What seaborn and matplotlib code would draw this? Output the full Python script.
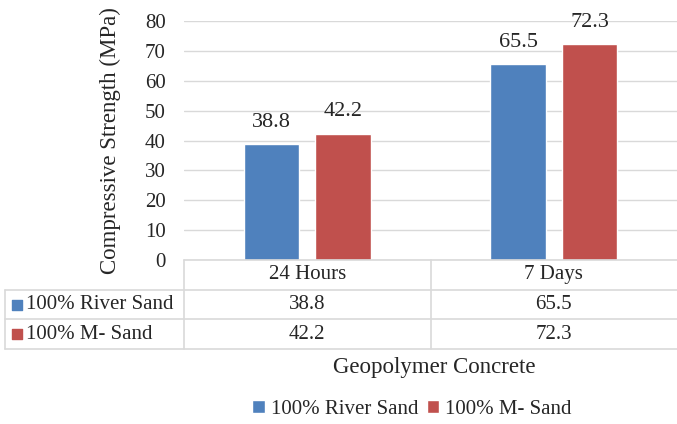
import pandas as pd
import seaborn as sns
import matplotlib.pyplot as plt
from matplotlib.patches import Patch
from matplotlib.lines import Line2D
import matplotlib.transforms as mtransforms

sns.set_style("white")
plt.rcParams["font.family"] = ["Liberation Serif", "DejaVu Serif"]

# data
periods = ["24 Hours", "7 Days"]
series = ["100% River Sand", "100% M- Sand"]
river_sand = [38.8, 65.5]
m_sand = [42.2, 72.3]
colors = ["#4F81BD", "#C0504D"]
yticks = [0, 10, 20, 30, 40, 50, 60, 70, 80]

df = pd.DataFrame({
    "period": periods * 2,
    "mix": [series[0]] * 2 + [series[1]] * 2,
    "strength": river_sand + m_sand,
})

fs = 15
fig = plt.figure(figsize=(6.77, 4.24), dpi=100)
W, H = 677, 424
left, right = 184 / W, 1.0
top, bottom = 1 - 21 / H, 1 - 260 / H
ax = fig.add_axes([left, bottom, right - left, top - bottom])

sns.barplot(data=df, x="period", y="strength", hue="mix", palette=colors,
            width=0.58, gap=0.22, saturation=1, legend=False, ax=ax)
for c in ax.containers:
    ax.bar_label(c, fmt="%.1f", padding=9, fontsize=fs + 1)

ax.set_ylim(0, 80)
ax.set_yticks(yticks)
ax.grid(axis="y", color="#D9D9D9", linewidth=1)
ax.set_axisbelow(True)
sns.despine(ax=ax, left=True, bottom=True, right=True, top=True)
ax.tick_params(axis="y", length=0, pad=13, labelsize=fs)
ax.tick_params(axis="x", length=0, labelbottom=False)
ax.set_xlabel("")
ax.set_ylabel("Compressive Strength (MPa)", fontsize=16.5, labelpad=17)

# data table under the axis
tb_bottom = 1 - 349 / H
tab = fig.add_axes([left, tb_bottom, right - left, bottom - tb_bottom], sharex=ax)
tab.set_ylim(3, 0)
tab.axis("off")
grid_kw = dict(color="#D9D9D9", linewidth=1.2)
trans = mtransforms.blended_transform_factory(fig.transFigure, tab.transData)
x0 = 5 / W
# horizontal lines
tab.plot([-0.5, 1.5], [0, 0], clip_on=False, **grid_kw)
for r in [1, 2, 3]:
    tab.add_line(Line2D([x0, 1], [r, r], transform=trans, clip_on=False, **grid_kw))
# vertical lines
for xb in [-0.5, 0.5]:
    tab.plot([xb, xb], [0, 3], clip_on=False, **grid_kw)
tab.add_line(Line2D([x0, x0], [1, 3], transform=trans, clip_on=False, **grid_kw))

for i, p in enumerate(periods):
    tab.text(i, 0.5, p, ha="center", va="center", fontsize=fs)
    tab.text(i, 1.5, f"{river_sand[i]:.1f}", ha="center", va="center", fontsize=fs)
    tab.text(i, 2.5, f"{m_sand[i]:.1f}", ha="center", va="center", fontsize=fs)
for r, (name, col) in enumerate(zip(series, colors)):
    tab.scatter([16.5 / W], [r + 1.5], marker="s", s=55, color=col,
                transform=trans, clip_on=False)
    tab.text(26 / W, r + 1.5, name, ha="left", va="center", fontsize=fs,
             transform=trans)
ax.set_xlim(-0.5, 1.5)

fig.text(434 / W, 1 - 368 / H, "Geopolymer Concrete",
         ha="center", va="center", fontsize=16.5)

handles = [Patch(facecolor=c, label=s) for c, s in zip(colors, series)]
fig.legend(handles=handles, loc="center", bbox_to_anchor=(412 / W, 1 - 409 / H),
           ncol=2, frameon=False, fontsize=fs, handlelength=0.6, handleheight=0.6,
           handletextpad=0.3, columnspacing=0.4)

fig.savefig("out.png", dpi=100)
